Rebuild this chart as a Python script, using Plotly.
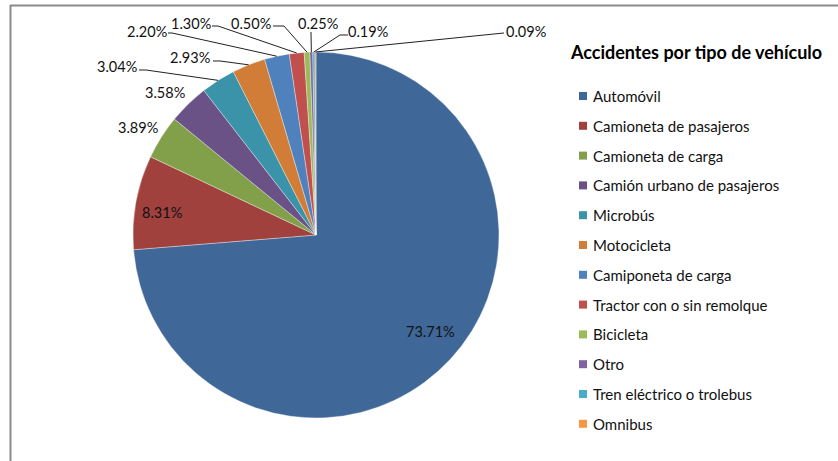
import math
import plotly.graph_objects as go

# ---- data ----
categories = [
    "Automóvil", "Camioneta de pasajeros", "Camioneta de carga",
    "Camión urbano de pasajeros", "Microbús", "Motocicleta",
    "Camiponeta de carga", "Tractor con o sin remolque", "Bicicleta",
    "Otro", "Tren eléctrico o trolebus", "Omnibus",
]
values = [73.71, 8.31, 3.89, 3.58, 3.04, 2.93, 2.20, 1.30, 0.50, 0.25, 0.19, 0.09]
title_text = "Accidentes por tipo de vehículo"

# ---- style / layout ----
colors = ["#3F6898", "#A0413E", "#82A04A", "#6A5287", "#3A93A8", "#D17D38",
          "#4F81BD", "#C0504D", "#9BBB59", "#8064A2", "#4BACC6", "#F79646"]
W, H = 838, 461
CX, CY, R = 316, 235, 183
FONT = "Lato"

# label text centres (pixels) and leader elbows (pixels) -- layout only
label_pos = [(431, 331), (162, 212), (138, 128), (165, 93), (117, 67), (190, 58),
             (147, 32), (191, 23), (251, 23), (318, 23), (368, 32), (526, 32)]
leader_elbows = [None, None, None, None,
                 [(139, 70), (146, 70)], [(213, 61), (220, 61)],
                 [(168, 33), (172, 33)], [(212, 26), (218, 26)],
                 [(273, 26), (284, 26)], [(311, 32)],
                 [(348, 35), (340, 35)], [(504, 33)]]


def px(x):
    return x / W


def py(y):
    return 1 - y / H


fig = go.Figure(go.Pie(
    labels=categories, values=values, sort=False, direction="clockwise",
    rotation=0, textinfo="none", showlegend=False,
    marker=dict(colors=colors, line=dict(color="rgba(255,255,255,0.5)", width=0.7)),
    domain=dict(x=[px(CX - R), px(CX + R)], y=[py(CY + R), py(CY - R)]),
))

total = sum(values)
annotations = []
shapes = []
cum = 0.0
for i, v in enumerate(values):
    mid = (cum + v / 2) / total * 2 * math.pi
    cum += v
    ex, ey = CX + R * math.sin(mid), CY - R * math.cos(mid)
    lx, ly = label_pos[i]
    annotations.append(dict(
        x=px(lx), y=py(ly), xref="paper", yref="paper", showarrow=False,
        text=f"{v:.2f}%", xanchor="center", yanchor="middle",
        font=dict(family=FONT, size=14.5, color="#111111"),
    ))
    if leader_elbows[i]:
        pts = leader_elbows[i] + [(ex, ey)]
        path = "M " + " L ".join(f"{px(a):.5f},{py(b):.5f}" for a, b in pts)
        shapes.append(dict(type="path", path=path, xref="paper", yref="paper",
                           line=dict(color="#222222", width=1)))

# manual legend
LEG_X, LEG_Y0, LEG_DY = 579, 96, 29.8
for i, name in enumerate(categories):
    yc = LEG_Y0 + LEG_DY * i
    shapes.append(dict(type="rect", xref="paper", yref="paper",
                       x0=px(LEG_X), x1=px(LEG_X + 8), y0=py(yc + 4), y1=py(yc - 4),
                       fillcolor=colors[i], line=dict(width=0)))
    annotations.append(dict(
        x=px(LEG_X + 12), y=py(yc), xref="paper", yref="paper", showarrow=False,
        text=name, xanchor="left", yanchor="middle",
        font=dict(family=FONT, size=15, color="#111111"),
    ))

annotations.append(dict(
    x=px(696), y=py(52), xref="paper", yref="paper", showarrow=False,
    text=f"<b>{title_text}</b>", xanchor="center", yanchor="middle",
    font=dict(family=FONT, size=18, color="#000000"),
))

# chart border (top and left)
shapes.append(dict(type="line", xref="paper", yref="paper",
                   x0=px(10), x1=px(840), y0=py(5.5), y1=py(5.5),
                   line=dict(color="#8a8a8a", width=2)))
shapes.append(dict(type="line", xref="paper", yref="paper",
                   x0=px(10.5), x1=px(10.5), y0=py(5), y1=py(465),
                   line=dict(color="#8a8a8a", width=2)))

fig.update_layout(
    width=W, height=H, margin=dict(l=0, r=0, t=0, b=0),
    paper_bgcolor="white", plot_bgcolor="white",
    annotations=annotations, shapes=shapes,
)

fig.write_html("out.html")
